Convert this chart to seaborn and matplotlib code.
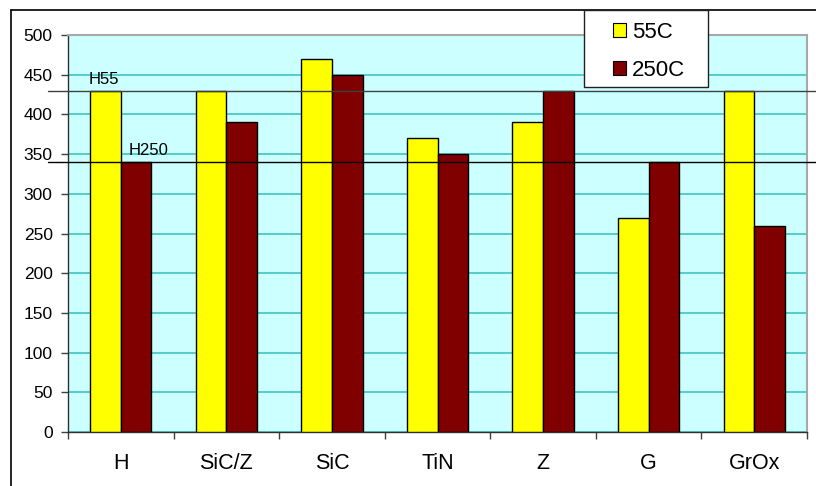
import numpy as np
import pandas as pd
import matplotlib
matplotlib.use("Agg")
import matplotlib.pyplot as plt
import matplotlib.transforms as mtransforms
from matplotlib.patches import Rectangle, Patch
from matplotlib.lines import Line2D
import seaborn as sns

# Data
categories = ["H", "SiC/Z", "SiC", "TiN", "Z", "G", "GrOx"]
series_names = ["55C", "250C"]
values_55c = [430, 430, 470, 370, 390, 270, 430]
values_250c = [340, 390, 450, 350, 430, 340, 260]
ref_levels = [430, 340]
ref_labels = ["H55", "H250"]
y_ticks = [0, 50, 100, 150, 200, 250, 300, 350, 400, 450, 500]

df = pd.DataFrame({
    "material": categories * 2,
    "temp": [series_names[0]] * len(categories) + [series_names[1]] * len(categories),
    "value": values_55c + values_250c,
})

sns.set_style("white")
plt.rcParams["font.family"] = ["Liberation Sans", "DejaVu Sans"]
plt.rcParams["text.color"] = "black"

W, H = 816, 486
fig = plt.figure(figsize=(W / 100, H / 100), dpi=100)
fig.patch.set_facecolor("white")

ax = fig.add_axes([68 / W, 1 - 432 / H, (807 - 68) / W, (432 - 35) / H])
ax.set_facecolor("#CCFFFF")

colors = ["#FFFF00", "#800000"]
sns.barplot(data=df, x="material", y="value", hue="temp", palette=colors,
            width=0.58, edgecolor="black", linewidth=1.0, saturation=1,
            legend=False, ax=ax, zorder=3)

ax.set_xlim(-0.5, len(categories) - 0.5)
ax.set_ylim(0, 500)
ax.set_yticks(y_ticks)
ax.set_xlabel("")
ax.set_ylabel("")

# Gridlines
ax.yaxis.grid(True, color="#4CC8C8", linewidth=1.3, zorder=1)
ax.xaxis.grid(False)
ax.set_axisbelow(True)

# Ticks
ax.tick_params(axis="y", which="major", direction="out", length=5, width=1,
               color="#404040", labelcolor="black", labelsize=12.5, pad=6,
               left=True)
ax.tick_params(axis="x", which="major", length=0, labelsize=15.5, pad=15,
               labelcolor="black")
ax.set_xticks(np.arange(-0.5, len(categories), 1.0), minor=True)
ax.tick_params(axis="x", which="minor", direction="out", length=5, width=1,
               color="#404040", bottom=True)

for side in ["left", "bottom"]:
    ax.spines[side].set_color("#303030")
    ax.spines[side].set_linewidth(1.0)
for side in ["top", "right"]:
    ax.spines[side].set_color("#A8A8A8")
    ax.spines[side].set_linewidth(1.5)

# Reference lines spanning to the figure edge
trans = mtransforms.blended_transform_factory(fig.transFigure, ax.transData)
line_colors = ["#404040", "#000000"]
for lvl, c in zip(ref_levels, line_colors):
    ax.add_line(Line2D([48 / W, 1.0], [lvl, lvl], transform=trans, color=c,
                       linewidth=1.0, clip_on=False, zorder=5))

ax.text(-0.30, ref_levels[0] + 14, ref_labels[0], fontsize=12, va="center",
        ha="left", color="black", zorder=6)
ax.text(0.078, ref_levels[1] + 14, ref_labels[1], fontsize=12, va="center",
        ha="left", color="black", zorder=6)

# Outer frame (top and left edges)
fig.add_artist(Line2D([11 / W, 1.0], [1 - 10 / H, 1 - 10 / H],
                      transform=fig.transFigure, color="black", linewidth=1.2))
fig.add_artist(Line2D([11 / W, 11 / W], [0, 1 - 10 / H],
                      transform=fig.transFigure, color="black", linewidth=1.2))

# Legend box
fig.add_artist(Rectangle((584 / W, 1 - 87 / H), (708 - 584) / W, (87 - 10) / H,
                         transform=fig.transFigure, facecolor="white",
                         edgecolor="#202020", linewidth=1.0, zorder=4))
handles = [Patch(facecolor=c, edgecolor="black", linewidth=0.8) for c in colors]
fig.legend(handles, series_names, loc="upper left",
           bbox_to_anchor=(613 / W, 1 - 22 / H), frameon=False, fontsize=16,
           handlelength=0.6, handleheight=0.6, handletextpad=0.25,
           labelspacing=0.75, borderpad=0, borderaxespad=0, labelcolor="black")

fig.savefig("out.png", dpi=100, facecolor="white")
